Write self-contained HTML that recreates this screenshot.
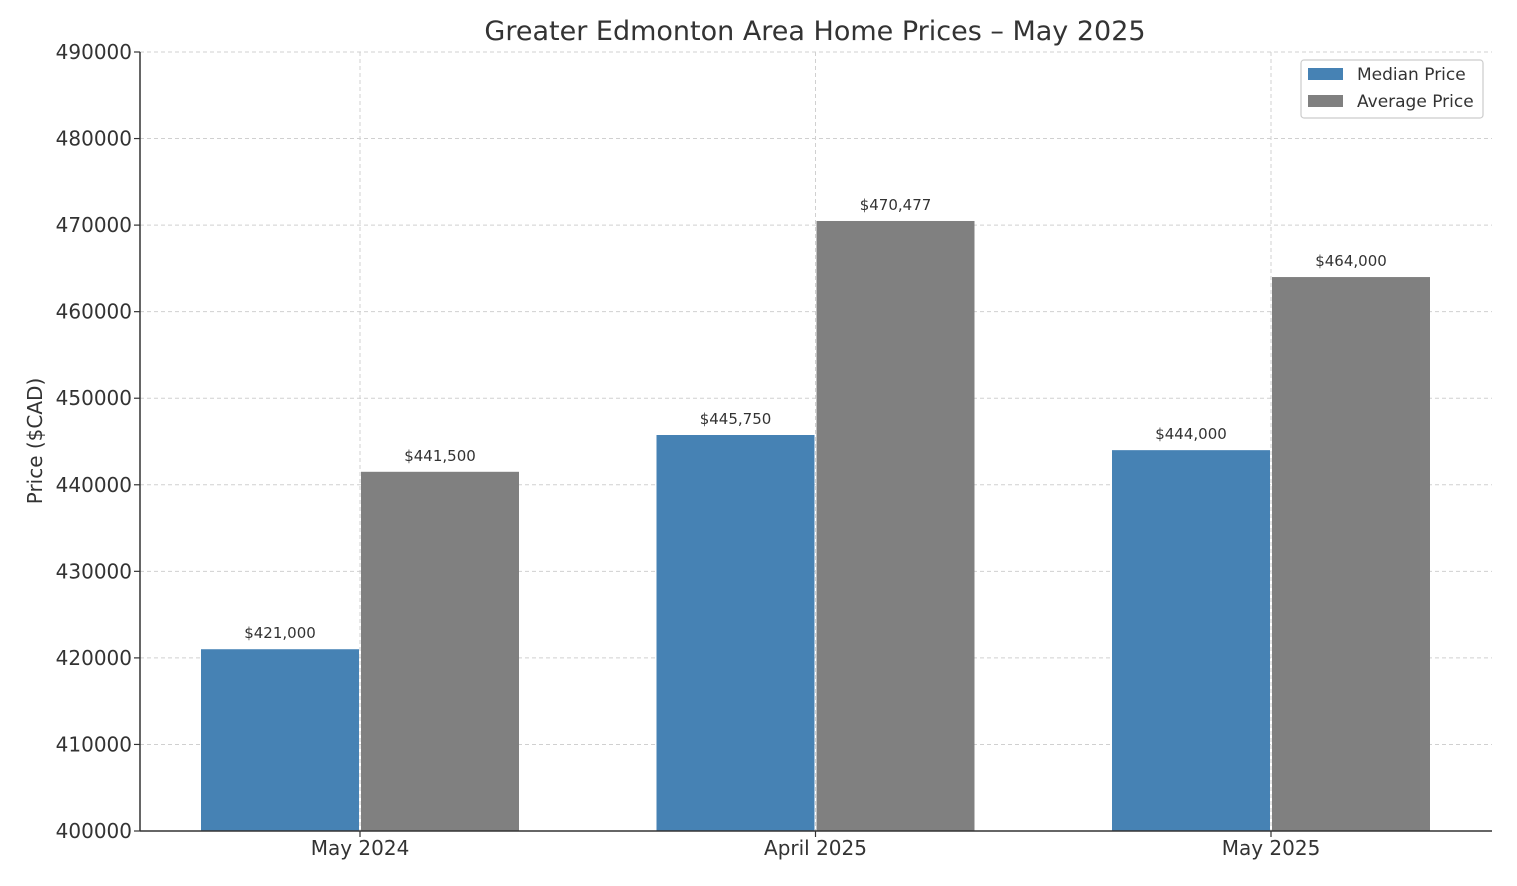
<!DOCTYPE html>
<html><head><meta charset="utf-8">
<style>
html,body{margin:0;padding:0;background:#fff;}
svg{display:block;font-family:"DejaVu Sans","Liberation Sans",sans-serif;}
</style></head>
<body>
<svg id="chart" width="1517" height="886" viewBox="0 0 1517 886" xmlns="http://www.w3.org/2000/svg">
<text x="815" y="40" text-anchor="middle" font-size="27" fill="#333">Greater Edmonton Area Home Prices – May 2025</text>
<text transform="translate(42,441) rotate(-90)" text-anchor="middle" font-size="20" fill="#333">Price ($CAD)</text>
<g id="grid"></g><g id="bars"></g><g id="labels"></g><g id="axes"></g>
<g>
<rect x="1301" y="60" width="182" height="58" rx="3" fill="#fff" stroke="#ccc" stroke-width="1.2"/>
<rect x="1308" y="68" width="35" height="12" fill="#4682b4"/>
<text x="1357" y="80" font-size="17" fill="#333">Median Price</text>
<rect x="1308" y="95" width="35" height="12" fill="#808080"/>
<text x="1357" y="107" font-size="17" fill="#333">Average Price</text>
</g>
</svg>
<script>
const categories = ["May 2024","April 2025","May 2025"];
const medianValues = [421000,445750,444000];
const averageValues = [441500,470477,464000];
const yTicks = [400000,410000,420000,430000,440000,450000,460000,470000,480000,490000];
const yMin = 400000, yMax = 490000;

const NS="http://www.w3.org/2000/svg";
const L=140,R=1492,T=52,B=831;
const step=(R-L)/categories.length*1.0;
function xC(i){return 360+i*455.5;}
function y(v){return B-(v-yMin)/(yMax-yMin)*(B-T);}
function mk(tag,attrs,parent,text){const e=document.createElementNS(NS,tag);for(const k in attrs)e.setAttribute(k,attrs[k]);if(text!==undefined)e.textContent=text;parent.appendChild(e);return e;}
const grid=document.getElementById('grid'),bars=document.getElementById('bars'),labels=document.getElementById('labels'),axes=document.getElementById('axes');
const bw=158;
yTicks.forEach(t=>{
  const g=mk('line',{x1:L,x2:R,y1:y(t),y2:y(t),stroke:'#d0d0d0','stroke-dasharray':'4,3','stroke-width':1},grid);
  
  
  const tk=mk('line',{x1:L-6,x2:L,y1:y(t),y2:y(t),stroke:'#333','stroke-width':1.2},axes);
  
  
  const tl=mk('text',{x:L-8,y:y(t)+7,'text-anchor':'end','font-size':20,fill:'#333'},axes,String(t));
  
  
});
categories.forEach((c,i)=>{
  const cx=xC(i);
  const vg=mk('line',{x1:cx,x2:cx,y1:T,y2:B,stroke:'#d0d0d0','stroke-dasharray':'4,3','stroke-width':1},grid);
  
  
  const m=mk('rect',{x:cx-bw-1,y:y(medianValues[i]),width:bw,height:B-y(medianValues[i]),fill:'#4682b4'},bars);
  
  
  const a=mk('rect',{x:cx+1,y:y(averageValues[i]),width:bw,height:B-y(averageValues[i]),fill:'#808080'},bars);
  
  
  const ml=mk('text',{x:cx-bw/2-1,y:y(medianValues[i])-11,'text-anchor':'middle','font-size':15,fill:'#333'},labels,'$'+medianValues[i].toLocaleString('en-US'));
  
  
  const al=mk('text',{x:cx+bw/2+1,y:y(averageValues[i])-11,'text-anchor':'middle','font-size':15,fill:'#333'},labels,'$'+averageValues[i].toLocaleString('en-US'));
  
  
  const xt=mk('line',{x1:cx,x2:cx,y1:B,y2:B+6,stroke:'#333','stroke-width':1.2},axes);
  
  
  const xl=mk('text',{x:cx,y:B+24,'text-anchor':'middle','font-size':20,fill:'#333'},axes,c);
  
  
});
const ly=mk('line',{x1:L,x2:L,y1:T,y2:B,stroke:'#333','stroke-width':1.5},axes);


const lx=mk('line',{x1:L,x2:R,y1:B,y2:B,stroke:'#333','stroke-width':1.5},axes);


</script>
</body></html>
